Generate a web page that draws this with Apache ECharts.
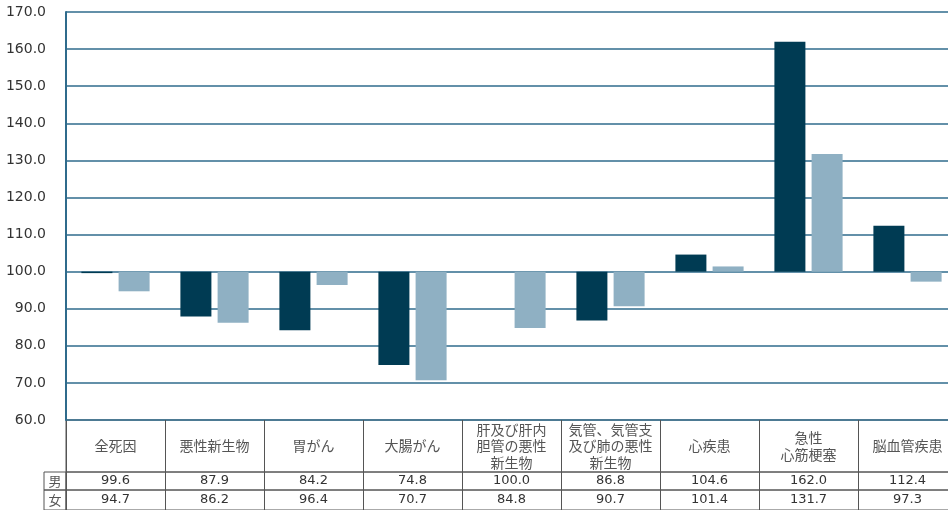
<!DOCTYPE html>
<html>
<head>
<meta charset="utf-8">
<script src="https://cdn.jsdelivr.net/npm/echarts@6/dist/echarts.min.js"></script>
<style>
  html, body { margin: 0; padding: 0; background: #fff; }
  #main { width: 948px; height: 510px; }
</style>
</head>
<body>
<div id="main"></div>
<script>
var categories = ['全死因', '悪性新生物', '胃がん', '大腸がん', '肝及び肝内\n胆管の悪性\n新生物', '気管、気管支\n及び肺の悪性\n新生物', '心疾患', '急性\n心筋梗塞', '脳血管疾患'];
var maleValues = [99.6, 87.9, 84.2, 74.8, 100.0, 86.8, 104.6, 162.0, 112.4];
var femaleValues = [94.7, 86.2, 96.4, 70.7, 84.8, 90.7, 101.4, 131.7, 97.3];
var rowNames = ['男', '女'];
var baseLine = 100;

var chart = echarts.init(document.getElementById('main'));

var gridColor = '#2f6b8c';
var tableColor = '#555';
var cjkFont = '"Noto Sans CJK JP", sans-serif';
var numFont = '"DejaVu Sans", Verdana, sans-serif';

function shift(arr) {
    return arr.map(function (v) { return +(v - baseLine).toFixed(1); });
}
function fmt(arr) {
    return arr.map(function (v) { return v.toFixed(1); });
}

// hidden axis helper for the table cells
function blankY(idx) {
    return { type: 'value', gridIndex: idx, show: false };
}
function tableX(idx, data, labelStyle) {
    return {
        type: 'category',
        gridIndex: idx,
        position: 'top',
        data: data,
        axisLine: { show: false },
        axisTick: { show: false },
        splitLine: { show: true, interval: 0, lineStyle: { color: tableColor, width: 1 } },
        axisLabel: labelStyle
    };
}
function cell(left, top, width, height) {
    return {
        left: left, top: top, width: width, height: height,
        outerBoundsMode: 'none',
        show: true, borderColor: tableColor, borderWidth: 1
    };
}

var option = {
    animation: false,
    grid: [
        { left: 66, top: 12, width: 891, height: 408, outerBoundsMode: 'none' },
        cell(66, 420, 891, 52),
        cell(66, 472, 891, 18),
        cell(66, 490, 891, 20),
        cell(44, 472, 22, 18),
        cell(44, 490, 22, 20)
    ],
    xAxis: [
        {
            type: 'category',
            gridIndex: 0,
            data: categories,
            axisLine: { show: false },
            axisTick: { show: false },
            axisLabel: { show: false }
        },
        tableX(1, categories, {
            inside: true, margin: 26, interval: 0, verticalAlign: 'middle',
            color: tableColor, fontFamily: cjkFont, fontSize: 14, lineHeight: 16.5
        }),
        tableX(2, fmt(maleValues), {
            inside: true, margin: 9, interval: 0, verticalAlign: 'middle',
            color: '#333', fontFamily: numFont, fontSize: 13
        }),
        tableX(3, fmt(femaleValues), {
            inside: true, margin: 10, interval: 0, verticalAlign: 'middle',
            color: '#333', fontFamily: numFont, fontSize: 13
        }),
        { type: 'category', gridIndex: 4, position: 'top', data: [rowNames[0]],
          axisLine: { show: false }, axisTick: { show: false },
          axisLabel: { inside: true, margin: 9, verticalAlign: 'middle', color: tableColor, fontFamily: cjkFont, fontSize: 13 } },
        { type: 'category', gridIndex: 5, position: 'top', data: [rowNames[1]],
          axisLine: { show: false }, axisTick: { show: false },
          axisLabel: { inside: true, margin: 10, verticalAlign: 'middle', color: tableColor, fontFamily: cjkFont, fontSize: 13 } }
    ],
    yAxis: [
        {
            type: 'value',
            gridIndex: 0,
            min: -40,
            max: 70,
            interval: 10,
            axisLine: { show: true, lineStyle: { color: gridColor, width: 2 } },
            axisTick: { show: false },
            splitLine: { lineStyle: { color: gridColor, width: 1.5 } },
            axisLabel: {
                margin: 20,
                color: '#333',
                fontFamily: numFont,
                fontSize: 14,
                formatter: function (v) { return (v + baseLine).toFixed(1); }
            }
        },
        blankY(1), blankY(2), blankY(3), blankY(4), blankY(5)
    ],
    series: [
        {
            name: '男',
            type: 'bar',
            xAxisIndex: 0,
            yAxisIndex: 0,
            barWidth: 31,
            barGap: '20%',
            itemStyle: { color: '#003b53' },
            data: shift(maleValues)
        },
        {
            name: '女',
            type: 'bar',
            xAxisIndex: 0,
            yAxisIndex: 0,
            barWidth: 31,
            itemStyle: { color: '#8fb0c3' },
            data: shift(femaleValues)
        }
    ]
};

chart.setOption(option);
</script>
</body>
</html>
